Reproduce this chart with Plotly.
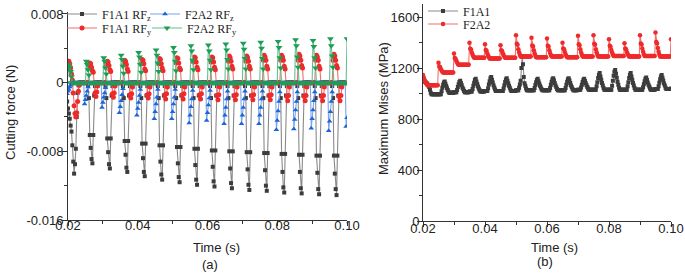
import numpy as np
import plotly.graph_objects as go

# ---------------- panel (a): cutting force, sampled every 0.25 ms ----------------
t_a = np.round(0.01975 + 0.00025 * np.arange(322), 6)

f1a1_rfz = [
 -0.0022,-0.003,-0.0036,-0.0042,-0.005,-0.0057,-0.0073,-0.0092,-0.0106,-0.0095,-0.0077,-0.004,-0.0012,-0.0003,0,0,0,0,0,0,
 0,0,0,0,-0.0004,-0.0018,-0.0061,-0.0076,-0.0089,-0.0094,-0.0061,-0.0015,-0.0004,0,0,0,0,0,0,0,
 0,0,0,0,-0.0004,-0.0018,-0.0065,-0.0081,-0.0095,-0.0100,-0.0065,-0.0015,-0.0004,0,0,0,0,0,0,0,
 0,0,0,0,-0.0004,-0.0018,-0.0068,-0.0084,-0.0099,-0.0104,-0.0068,-0.0015,-0.0004,0,0,0,0,0,0,0,
 0,0,0,0,-0.0004,-0.0018,-0.0071,-0.0088,-0.0104,-0.0109,-0.0071,-0.0015,-0.0004,0,0,0,0,0,0,0,
 0,0,0,0,-0.0004,-0.0018,-0.0073,-0.0092,-0.0107,-0.0113,-0.0073,-0.0015,-0.0004,0,0,0,0,0,0,0,
 0,0,0,0,-0.0004,-0.0018,-0.0075,-0.0094,-0.0110,-0.0116,-0.0075,-0.0015,-0.0004,0,0,0,0,0,0,0,
 0,0,0,0,-0.0004,-0.0018,-0.0077,-0.0096,-0.0113,-0.0119,-0.0077,-0.0015,-0.0004,0,0,0,0,0,0,0,
 0,0,0,0,-0.0004,-0.0018,-0.0079,-0.0098,-0.0115,-0.0121,-0.0079,-0.0015,-0.0004,0,0,0,0,0,0,0,
 0,0,0,0,-0.0004,-0.0018,-0.0080,-0.0100,-0.0117,-0.0123,-0.0080,-0.0015,-0.0004,0,0,0,0,0,0,0,
 0,0,0,0,-0.0004,-0.0018,-0.0081,-0.0101,-0.0119,-0.0125,-0.0081,-0.0015,-0.0004,0,0,0,0,0,0,0,
 0,0,0,0,-0.0004,-0.0018,-0.0082,-0.0102,-0.0120,-0.0126,-0.0082,-0.0015,-0.0004,0,0,0,0,0,0,0,
 0,0,0,0,-0.0004,-0.0018,-0.0083,-0.0104,-0.0122,-0.0128,-0.0083,-0.0015,-0.0004,0,0,0,0,0,0,0,
 0,0,0,0,-0.0004,-0.0018,-0.0084,-0.0104,-0.0123,-0.0129,-0.0084,-0.0015,-0.0004,0,0,0,0,0,0,0,
 0,0,0,0,-0.0004,-0.0018,-0.0085,-0.0105,-0.0124,-0.0130,-0.0085,-0.0015,-0.0004,0,0,0,0,0,0,0,
 0,0,0,0,-0.0004,-0.0018,-0.0085,-0.0106,-0.0124,-0.0131,-0.0085,-0.0015,-0.0004,0,0,0,0,0,0,0,
 0,0,
]

f1a1_rfy = [
 0.0024,0.0025,0.0025,0.0022,0.0017,0.001,0.0003,-0.0012,-0.0027,-0.0036,-0.004,-0.0035,-0.0022,-0.001,-0.0003,0,0,0,0,0,
 0,0,0,0,0,0.0018,0.0023,0.0022,0.0018,0.0014,0.0012,0,-0.0012,-0.0016,-0.0011,-0.0004,0,0,0,0,
 0,0,0,0,0,0.0020,0.0025,0.0024,0.0020,0.0015,0.0013,0,-0.0013,-0.0017,-0.0012,-0.0004,0,0,0,0,
 0,0,0,0,0,0.0021,0.0026,0.0025,0.0021,0.0016,0.0013,0,-0.0014,-0.0018,-0.0013,-0.0005,0,0,0,0,
 0,0,0,0,0,0.0022,0.0027,0.0026,0.0022,0.0016,0.0014,0,-0.0014,-0.0018,-0.0013,-0.0005,0,0,0,0,
 0,0,0,0,0,0.0022,0.0028,0.0027,0.0022,0.0017,0.0014,0,-0.0014,-0.0019,-0.0013,-0.0005,0,0,0,0,
 0,0,0,0,0,0.0023,0.0029,0.0028,0.0023,0.0017,0.0015,0,-0.0014,-0.0019,-0.0013,-0.0005,0,0,0,0,
 0,0,0,0,0,0.0024,0.0030,0.0029,0.0024,0.0018,0.0015,0,-0.0014,-0.0019,-0.0013,-0.0005,0,0,0,0,
 0,0,0,0,0,0.0024,0.0030,0.0029,0.0024,0.0018,0.0015,0,-0.0015,-0.0020,-0.0014,-0.0005,0,0,0,0,
 0,0,0,0,0,0.0025,0.0031,0.0029,0.0025,0.0019,0.0016,0,-0.0015,-0.0020,-0.0014,-0.0005,0,0,0,0,
 0,0,0,0,0,0.0025,0.0031,0.0029,0.0025,0.0019,0.0016,0,-0.0015,-0.0020,-0.0014,-0.0005,0,0,0,0,
 0,0,0,0,0,0.0026,0.0032,0.0030,0.0026,0.0019,0.0016,0,-0.0015,-0.0020,-0.0014,-0.0005,0,0,0,0,
 0,0,0,0,0,0.0026,0.0032,0.0030,0.0026,0.0019,0.0016,0,-0.0016,-0.0021,-0.0015,-0.0005,0,0,0,0,
 0,0,0,0,0,0.0026,0.0033,0.0031,0.0026,0.0020,0.0017,0,-0.0016,-0.0021,-0.0015,-0.0005,0,0,0,0,
 0,0,0,0,0,0.0026,0.0032,0.0030,0.0026,0.0019,0.0016,0,-0.0016,-0.0021,-0.0015,-0.0005,0,0,0,0,
 0,0,0,0,0,0.0026,0.0033,0.0031,0.0026,0.0020,0.0017,0,-0.0016,-0.0021,-0.0015,-0.0005,0,0,0,0,
 0,0,
]

f2a2_rfz = [
 -0.0013,-0.0010,-0.0008,-0.0005,-0.0003,0,0,0,0,0,0,0,0,0,0,0,0,0,0,0,
 -0.0025,-0.0020,-0.0015,-0.0010,-0.0005,0,0,0,0,0,0,0,0,0,0,0,0,0,0,0,
 -0.0029,-0.0023,-0.0017,-0.0012,-0.0006,0,0,0,0,0,0,0,0,0,0,0,0,0,0,0,
 -0.0035,-0.0028,-0.0021,-0.0014,-0.0007,0,0,0,0,0,0,0,0,0,0,0,0,0,0,0,
 -0.0038,-0.0030,-0.0023,-0.0015,-0.0008,0,0,0,0,0,0,0,0,0,0,0,0,0,0,0,
 -0.0042,-0.0034,-0.0025,-0.0017,-0.0008,0,0,0,0,0,0,0,0,0,0,0,0,0,0,0,
 -0.0042,-0.0034,-0.0025,-0.0017,-0.0008,0,0,0,0,0,0,0,0,0,0,0,0,0,0,0,
 -0.0047,-0.0038,-0.0028,-0.0019,-0.0009,0,0,0,0,0,0,0,0,0,0,0,0,0,0,0,
 -0.0044,-0.0035,-0.0026,-0.0018,-0.0009,0,0,0,0,0,0,0,0,0,0,0,0,0,0,0,
 -0.0048,-0.0038,-0.0029,-0.0019,-0.0010,0,0,0,0,0,0,0,0,0,0,0,0,0,0,0,
 -0.0048,-0.0038,-0.0029,-0.0019,-0.0010,0,0,0,0,0,0,0,0,0,0,0,0,0,0,0,
 -0.0048,-0.0038,-0.0029,-0.0019,-0.0010,0,0,0,0,0,0,0,0,0,0,0,0,0,0,0,
 -0.0055,-0.0044,-0.0033,-0.0022,-0.0011,0,0,0,0,0,0,0,0,0,0,0,0,0,0,0,
 -0.0054,-0.0043,-0.0032,-0.0022,-0.0011,0,0,0,0,0,0,0,0,0,0,0,0,0,0,0,
 -0.0053,-0.0042,-0.0032,-0.0021,-0.0011,0,0,0,0,0,0,0,0,0,0,0,0,0,0,0,
 -0.0056,-0.0045,-0.0034,-0.0022,-0.0011,0,0,0,0,0,0,0,0,0,0,0,0,0,0,0,
 -0.0051,-0.0041,
]

f2a2_rfy = [
 0,0.0017,0.0021,0.0018,0.0013,0.0007,0,0,0,0,0,0,0,0,0,0,0,0,0,0,
 0,0,0.0025,0.0021,0.0015,0.0009,0,0,0,0,0,0,0,0,0,0,0,0,0,0,
 0,0,0.0029,0.0025,0.0017,0.0010,0,0,0,0,0,0,0,0,0,0,0,0,0,0,
 0,0,0.0032,0.0027,0.0019,0.0011,0,0,0,0,0,0,0,0,0,0,0,0,0,0,
 0,0,0.0035,0.0030,0.0021,0.0012,0,0,0,0,0,0,0,0,0,0,0,0,0,0,
 0,0,0.0038,0.0032,0.0023,0.0013,0,0,0,0,0,0,0,0,0,0,0,0,0,0,
 0,0,0.0041,0.0035,0.0025,0.0014,0,0,0,0,0,0,0,0,0,0,0,0,0,0,
 0,0,0.0043,0.0037,0.0026,0.0015,0,0,0,0,0,0,0,0,0,0,0,0,0,0,
 0,0,0.0044,0.0037,0.0026,0.0015,0,0,0,0,0,0,0,0,0,0,0,0,0,0,
 0,0,0.0045,0.0038,0.0027,0.0016,0,0,0,0,0,0,0,0,0,0,0,0,0,0,
 0,0,0.0046,0.0039,0.0028,0.0016,0,0,0,0,0,0,0,0,0,0,0,0,0,0,
 0,0,0.0047,0.0040,0.0028,0.0016,0,0,0,0,0,0,0,0,0,0,0,0,0,0,
 0,0,0.0048,0.0041,0.0029,0.0017,0,0,0,0,0,0,0,0,0,0,0,0,0,0,
 0,0,0.0050,0.0043,0.0030,0.0018,0,0,0,0,0,0,0,0,0,0,0,0,0,0,
 0,0,0.0049,0.0042,0.0029,0.0017,0,0,0,0,0,0,0,0,0,0,0,0,0,0,
 0,0,0.0051,0.0043,0.0031,0.0018,0,0,0,0,0,0,0,0,0,0,0,0,0,0,
 0,0.0051,
]

# ---------------- panel (b): maximum Mises stress ----------------
t_b = np.round(0.02 + 0.00025 * np.arange(321), 6)

mises_f1a1 = [
 1112,1105,1098,1090,1085,1078,1070,1062,1050,1030,1005,995,995,995,995,995,995,995,995,995,
 995,995,995,995,1018,1045,1068,1086,1095,1077,1059,1041,1028,1014,1005,1005,1005,1005,1005,1005,
 1010,1010,1010,1010,1028,1051,1073,1091,1100,1082,1064,1046,1033,1019,1010,1010,1010,1010,1010,1010,
 1015,1015,1015,1015,1035,1060,1085,1105,1115,1095,1075,1055,1040,1025,1015,1015,1015,1015,1015,1015,
 1020,1020,1020,1020,1042,1070,1097,1119,1130,1108,1086,1064,1048,1031,1020,1020,1020,1020,1020,1020,
 1020,1020,1020,1020,1040,1065,1090,1110,1120,1100,1080,1060,1045,1030,1020,1020,1020,1020,1020,1020,
 1025,1025,1025,1025,1045,1070,1100,1200,1290,1230,1130,1080,1060,1040,1025,1025,1025,1025,1025,1025,
 1025,1025,1025,1025,1043,1066,1088,1106,1115,1097,1079,1061,1048,1034,1025,1025,1025,1025,1025,1025,
 1025,1025,1025,1025,1044,1068,1092,1111,1120,1101,1082,1063,1049,1035,1025,1025,1025,1025,1025,1025,
 1025,1025,1025,1025,1044,1068,1092,1111,1120,1101,1082,1063,1049,1035,1025,1025,1025,1025,1025,1025,
 1030,1030,1030,1030,1047,1068,1090,1107,1115,1098,1081,1064,1051,1039,1030,1030,1030,1030,1030,1030,
 1030,1030,1030,1030,1056,1089,1121,1147,1160,1134,1108,1082,1063,1043,1030,1030,1030,1030,1030,1030,
 1030,1030,1030,1030,1061,1100,1139,1170,1185,1154,1123,1092,1069,1046,1030,1030,1030,1030,1030,1030,
 1030,1030,1030,1030,1056,1089,1121,1147,1160,1134,1108,1082,1063,1043,1030,1030,1030,1030,1030,1030,
 1030,1030,1030,1030,1049,1073,1097,1116,1125,1106,1087,1068,1054,1040,1030,1030,1030,1030,1030,1030,
 1035,1035,1035,1035,1057,1085,1112,1134,1145,1123,1101,1079,1063,1046,1035,1035,1035,1035,1035,1035,
 1040,
]

mises_f2a2 = [
 1145,1125,1105,1090,1080,1072,1065,1065,1065,1065,1065,1065,1065,1065,1065,1065,1065,1065,1065,1065,
 1242,1211,1207,1192,1180,1171,1165,1165,1165,1165,1165,1165,1165,1165,1165,1165,1165,1165,1165,1165,
 1313,1278,1273,1256,1243,1232,1225,1225,1225,1225,1225,1225,1225,1225,1225,1225,1225,1225,1225,1225,
 1399,1351,1345,1322,1304,1290,1280,1280,1280,1280,1280,1280,1280,1280,1280,1280,1280,1280,1280,1280,
 1386,1342,1336,1314,1297,1284,1275,1275,1275,1275,1275,1275,1275,1275,1275,1275,1275,1275,1275,1275,
 1379,1339,1334,1315,1300,1288,1280,1280,1280,1280,1280,1280,1280,1280,1280,1280,1280,1280,1280,1280,
 1457,1390,1382,1348,1323,1303,1290,1290,1290,1290,1290,1290,1290,1290,1290,1290,1290,1290,1290,1290,
 1438,1377,1369,1339,1316,1297,1285,1285,1285,1285,1285,1285,1285,1285,1285,1285,1285,1285,1285,1285,
 1431,1375,1368,1339,1318,1301,1290,1290,1290,1290,1290,1290,1290,1290,1290,1290,1290,1290,1290,1290,
 1399,1353,1348,1325,1308,1294,1285,1285,1285,1285,1285,1285,1285,1285,1285,1285,1285,1285,1285,1285,
 1452,1387,1379,1347,1322,1303,1290,1290,1290,1290,1290,1290,1290,1290,1290,1290,1290,1290,1290,1290,
 1457,1390,1382,1348,1323,1303,1290,1290,1290,1290,1290,1290,1290,1290,1290,1290,1290,1290,1290,1290,
 1426,1374,1367,1341,1321,1305,1295,1295,1295,1295,1295,1295,1295,1295,1295,1295,1295,1295,1295,1295,
 1394,1352,1347,1326,1311,1298,1290,1290,1290,1290,1290,1290,1290,1290,1290,1290,1290,1290,1290,1290,
 1457,1392,1384,1352,1327,1308,1295,1295,1295,1295,1295,1295,1295,1295,1295,1295,1295,1295,1295,1295,
 1478,1403,1393,1356,1328,1305,1290,1290,1290,1290,1290,1290,1290,1290,1290,1290,1290,1290,1290,1290,
 1425,
]

y_ticks_a = [-0.016, -0.008, 0, 0.008]
y_ticktext_a = ["-0.016", "-0.008", "0", "0.008"]
y_minor_a = [-0.012, -0.004, 0.004]
x_ticks = [0.02, 0.04, 0.06, 0.08, 0.10]
x_ticktext = ["0.02", "0.04", "0.06", "0.08", "0.10"]
x_minor = [0.03, 0.05, 0.07, 0.09]
y_ticks_b = [0, 400, 800, 1200, 1600]
y_minor_b = [200, 600, 1000, 1400]

SANS = "Liberation Sans, Arial, sans-serif"
SERIF = "Liberation Serif, Times New Roman, serif"
AX = "#333333"

fig = go.Figure()

def add(x, y, name, lc, mc, sym, size, xa, ya, leg):
    fig.add_trace(go.Scatter(
        x=x, y=y, name=name, mode="lines+markers",
        line=dict(color=lc, width=1.1),
        marker=dict(color=mc, symbol=sym, size=size, line=dict(width=0)),
        xaxis=xa, yaxis=ya, legend=leg))

add(t_a, f1a1_rfz, "F1A1 RF<sub>z</sub>", "#8a8a8a", "#3c3c3c", "square", 4, "x", "y", "legend")
add(t_a, f1a1_rfy, "F1A1 RF<sub>y</sub>", "#f07070", "#ee2a2a", "circle", 5, "x", "y", "legend3")
add(t_a, f2a2_rfz, "F2A2 RF<sub>z</sub>", "#7aa6ea", "#1f63d8", "triangle-up", 5, "x", "y", "legend2")
add(t_a, f2a2_rfy, "F2A2 RF<sub>y</sub>", "#62c08e", "#1d9e55", "triangle-down", 6, "x", "y", "legend4")
add(t_b, mises_f1a1, "F1A1", "#8a8a8a", "#3c3c3c", "square", 4, "x2", "y2", "legend5")
add(t_b, mises_f2a2, "F2A2", "#f07070", "#ee2a2a", "circle", 4.5, "x2", "y2", "legend6")

W, H = 685, 275
def px(x): return x / W
def py(y): return (H - y) / H

axis_common = dict(showline=True, linecolor=AX, linewidth=1, ticks="outside",
                   ticklen=5, tickcolor=AX, showgrid=False, zeroline=False,
                   tickfont=dict(family=SANS, size=13, color="#222"), automargin=False)

leg_common = dict(orientation="h", bgcolor="rgba(0,0,0,0)", borderwidth=0,
                  font=dict(family=SERIF, size=12, color="#222"),
                  xanchor="left", yanchor="middle", itemwidth=30)

fig.update_layout(
    width=W, height=H, margin=dict(l=0, r=0, t=0, b=0, autoexpand=False),
    paper_bgcolor="white", plot_bgcolor="white", showlegend=True,
    xaxis=dict(domain=[px(68), px(347)], range=[0.02, 0.1], tickvals=x_ticks, ticktext=x_ticktext,
               ticklabelstandoff=-12,
               minor=dict(tickvals=x_minor, ticks="outside", ticklen=3, tickcolor=AX), anchor="y", **axis_common),
    yaxis=dict(domain=[py(220), py(12)], range=[-0.016, 0.00823], tickvals=y_ticks_a, ticktext=y_ticktext_a,
               ticklabelstandoff=-4,
               minor=dict(tickvals=y_minor_a, ticks="outside", ticklen=3, tickcolor=AX), anchor="x", **axis_common),
    xaxis2=dict(domain=[px(423), px(671)], range=[0.02, 0.1], tickvals=x_ticks, ticktext=x_ticktext,
                ticklabelstandoff=-10,
                minor=dict(tickvals=x_minor, ticks="outside", ticklen=3, tickcolor=AX), anchor="y2", **axis_common),
    yaxis2=dict(domain=[py(221), py(4.25)], range=[0, 1700], tickvals=y_ticks_b,
                ticklabelstandoff=-5,
                minor=dict(tickvals=y_minor_b, ticks="outside", ticklen=3, tickcolor=AX), anchor="x2", **axis_common),
    legend=dict(x=px(62), y=py(14), **leg_common),
    legend2=dict(x=px(145), y=py(14), **leg_common),
    legend3=dict(x=px(62), y=py(28), **leg_common),
    legend4=dict(x=px(147), y=py(28), **leg_common),
    legend5=dict(x=px(423), y=py(11), **leg_common),
    legend6=dict(x=px(423), y=py(24), **leg_common),
)

def ann(text, x, y, angle=0, size=13):
    fig.add_annotation(text=text, x=px(x), y=py(y), xref="paper", yref="paper",
                       showarrow=False, textangle=angle, xanchor="center", yanchor="middle",
                       font=dict(family=SANS, size=size, color="#222"))

ann("Cutting force (N)", 10, 113, -90)
ann("Time (s)", 216, 247)
ann("(a)", 210, 264)
ann("Maximum Mises (MPa)", 383, 109, -90)
ann("Time (s)", 554, 247)
ann("(b)", 545, 261)

fig.write_html("out.html", config={"displayModeBar": False},
               post_script="document.body.style.margin='0';document.body.style.padding='0';")
